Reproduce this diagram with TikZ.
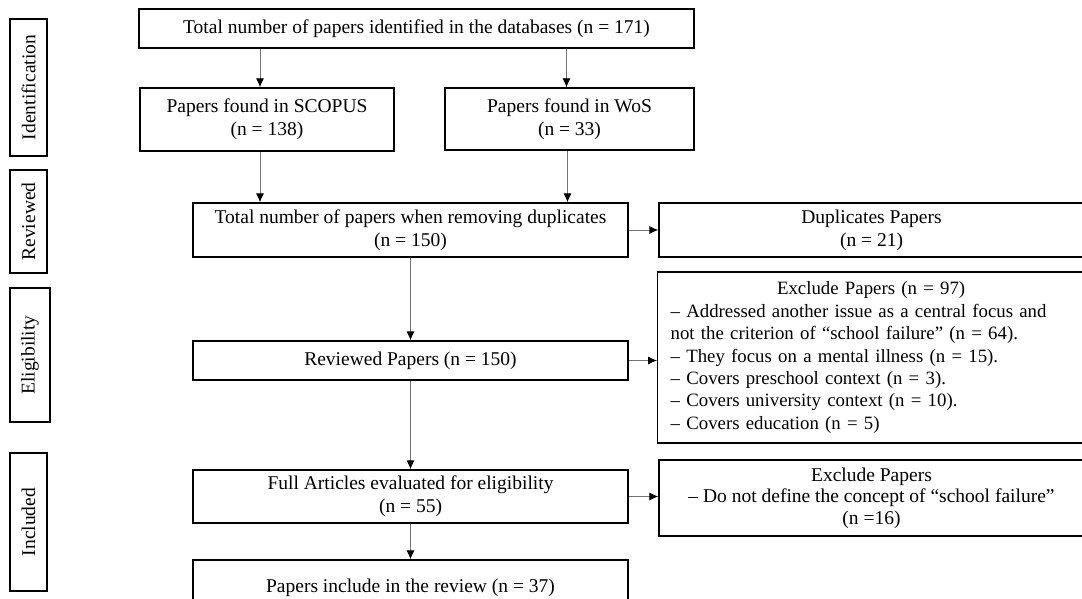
\documentclass[tikz,border=0pt]{standalone}
\usepackage{fontspec}
\setmainfont{Liberation Serif}
\usetikzlibrary{arrows.meta}

\begin{document}
\begin{tikzpicture}[x=1pt, y=-1pt,
				kasten/.style={draw, line width=1.3pt, inner sep=2pt, align=center},
				phase/.style={draw, line width=1.3pt, rotate=90, inner sep=1pt},
				pfeil/.style={draw=black!55, line width=0.8pt, -{Latex[length=9pt,width=8pt,black]}},
				font=\fontsize{19.5}{23}\selectfont]
				%Bildbereich
				\useasboundingbox[fill=white] (0,0) rectangle (1082,599);
				% Phasen links
				\node[phase, minimum width=137pt, minimum height=37pt] (ident) at (28.5,87.5) {Identification};
				\node[phase, minimum width=103pt, minimum height=37pt] (revl) at (28.5,221.5) {Reviewed};
				\node[phase, minimum width=134pt, minimum height=40pt] (elig) at (30,355) {Eligibility};
				\node[phase, minimum width=138pt, minimum height=37pt] (incl) at (28.5,522) {Included};
				% Kaesten Mitte
				\node[kasten, minimum width=555pt, minimum height=39pt] (top) at (416.5,28.5) {Total number of papers identified in the databases (n = 171)};
				\node[kasten, minimum width=254pt, minimum height=63pt] (scopus) at (267,119.5) {Papers found in SCOPUS\\(n = 138)};
				\node[kasten, minimum width=249pt, minimum height=62pt] (wos) at (569.5,119) {Papers found in WoS\\(n = 33)};
				\node[kasten, minimum width=435pt, minimum height=54pt] (dedup) at (410.5,230) {Total number of papers when removing duplicates\\(n = 150)};
				\node[kasten, minimum width=435pt, minimum height=39pt] (reviewed) at (410.5,360.5) {Reviewed Papers (n = 150)};
				\node[kasten, minimum width=435pt, minimum height=53pt] (full) at (410.5,496.5) {Full Articles evaluated for eligibility\\(n = 55)};
				\node[kasten, minimum width=435pt, minimum height=56pt] (final) at (410.5,588) {Papers include in the review (n = 37)};
				% Kaesten rechts
				\node[kasten, minimum width=425pt, minimum height=54pt] (dup) at (871.5,230) {Duplicates Papers\\(n = 21)};
				\node[kasten, anchor=west, text width=401pt, inner xsep=13pt, minimum height=171pt, align=left,
					font=\fontsize{18.8}{22.4}\selectfont] (excl97) at (657,357.5) {\makebox[\linewidth]{Exclude Papers (n = 97)}\\
					-- Addressed another issue as a central focus and\\
					not the criterion of ``school failure'' (n = 64).\\
					-- They focus on a mental illness (n = 15).\\
					-- Covers preschool context (n = 3).\\
					-- Covers university context (n = 10).\\
					-- Covers education (n = 5)};
				\node[kasten, minimum width=425pt, minimum height=76pt, font=\fontsize{19.5}{21.5}\selectfont] (excl16) at (871.5,498) {Exclude Papers\\-- Do not define the concept of ``school failure''\\(n =16)};
				% Pfeile
				\draw[pfeil] ([xshift=-7pt]top.south -| scopus.north) -- ([xshift=-7pt]scopus.north);
				\draw[pfeil] ([xshift=-3pt]top.south -| wos.north) -- ([xshift=-3pt]wos.north);
				\draw[pfeil] ([xshift=-7pt]scopus.south) -- ([xshift=-7pt]scopus.south |- dedup.north);
				\draw[pfeil] ([xshift=-2pt]wos.south) -- ([xshift=-2pt]wos.south |- dedup.north);
				\draw[pfeil] (dedup.east) -- (dup.west);
				\draw[pfeil] (dedup) -- (reviewed);
				\draw[pfeil] (reviewed.east) -- (reviewed.east -| excl97.west);
				\draw[pfeil] (reviewed) -- (full);
				\draw[pfeil] (full.east) -- (full.east -| excl16.west);
				\draw[pfeil] (full) -- (final);
			\end{tikzpicture}
\end{document}
